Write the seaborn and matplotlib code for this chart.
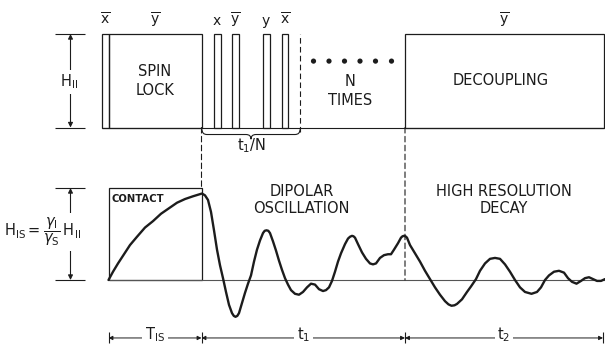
import numpy as np
import seaborn as sns
import matplotlib.pyplot as plt
from matplotlib.patches import ConnectionPatch, PathPatch
from matplotlib.path import Path

# rf on the I spins: pulse edges (time, a.u.) and phases, height = H_II
pulse_start = [-6.5, 0, 105, 123, 154, 173, 296.5]
pulse_end = [0, 93, 112, 130, 161, 179.5, 495]
pulse_phase = [r'$\overline{\mathrm{x}}$', r'$\overline{\mathrm{y}}$', r'$\mathrm{x}$',
               r'$\overline{\mathrm{y}}$', r'$\mathrm{y}$', r'$\overline{\mathrm{x}}$',
               r'$\overline{\mathrm{y}}$']
repeat_dots = [205, 220.5, 236, 251.5, 267, 283]
cycle_span = [93.5, 191.5]

# S spin signal, in units of H_IS
sig_t = [0, 4.5, 9.5, 15.5, 21.5, 28.5, 36.5, 44.5, 52.5, 60.5, 68.5, 76.5, 84.5, 90.5,
         93.5, 96.5, 99.5, 102.5, 105.5, 108.5, 111.5, 114.5, 117.5, 120.5, 123.5, 125.3,
         127, 128.8, 130.5, 133.5, 136.5, 139.5, 142.5, 145.5, 148.5, 151.5, 154.5, 156.2,
         158, 159.8, 161.5, 164.5, 167.5, 170.5, 173.5, 176.5, 179.5, 182.5, 186.5, 190.5,
         194.5, 198.5, 202.5, 206.5, 210.5, 214.5, 217.5, 220.5, 223.5, 226.5, 229.5,
         232.5, 236.5, 239.5, 241.5, 243.5, 245, 246.5, 249.5, 253.5, 257.5, 261.5, 264.5,
         267.5, 271.5, 275.5, 279.5, 282.5, 285.5, 289.5, 292.5, 294, 295.5, 297, 298.5,
         301.5, 306.5, 311.5, 316.5, 322, 326.5, 331.5, 336.5, 340, 343, 346, 348.5,
         353.5, 358.5, 362.5, 367.5, 371.5, 376.5, 381.5, 386.5, 391.5, 396.5, 401.5,
         406.5, 411.5, 416.5, 423, 428.5, 432.5, 436.5, 440.5, 445.5, 450.5, 455.5,
         459.5, 463.5, 468, 472.5, 476.5, 480.5, 484.5, 488.5, 492.5, 496.5]
sig_amp = [0.00, 0.09, 0.18, 0.28, 0.38, 0.47, 0.57, 0.64, 0.72, 0.78, 0.84, 0.88, 0.91, 0.93,
           0.94, 0.92, 0.87, 0.74, 0.54, 0.33, 0.16, 0.02, -0.13, -0.27, -0.36, -0.39,
           -0.40, -0.39, -0.36, -0.25, -0.14, -0.04, 0.05, 0.20, 0.33, 0.43, 0.51, 0.535,
           0.54, 0.535, 0.51, 0.42, 0.32, 0.21, 0.11, 0.02, -0.05, -0.11, -0.15, -0.16,
           -0.13, -0.08, -0.04, -0.05, -0.10, -0.12, -0.11, -0.08, -0.01, 0.09, 0.20,
           0.29, 0.39, 0.45, 0.47, 0.48, 0.475, 0.46, 0.39, 0.30, 0.23, 0.18, 0.17,
           0.18, 0.24, 0.27, 0.28, 0.28, 0.33, 0.40, 0.46, 0.475, 0.48, 0.475, 0.46,
           0.38, 0.29, 0.20, 0.10, 0.00, -0.08, -0.16, -0.23, -0.265, -0.28, -0.275, -0.26,
           -0.21, -0.13, -0.07, 0.01, 0.10, 0.18, 0.23, 0.24, 0.23, 0.17, 0.09,
           0.00, -0.08, -0.13, -0.15, -0.13, -0.08, 0.00, 0.05, 0.09, 0.10, 0.08,
           0.02, -0.02, -0.04, -0.01, 0.02, 0.03, 0.01, -0.01, -0.01, 0.01]

contact_span = [0, 93]
period_edges = [0, 93, 296.5, 494.5]
period_labels = [r'$\mathrm{T_{IS}}$', r'$\mathrm{t_1}$', r'$\mathrm{t_2}$']

sns.set_style('white')
plt.rcParams['font.family'] = ['DejaVu Sans']
plt.rcParams['mathtext.fontset'] = 'dejavusans'
INK = '#1c1c1c'
FS = 10.5

fig = plt.figure(figsize=(6.05, 3.48), dpi=100)
ax_sig = fig.add_axes([0, 0, 1, 1])
ax_rf = fig.add_axes([0, 0, 1, 1])

# --- rf channel
widths = np.subtract(pulse_end, pulse_start)
ax_rf.bar(pulse_start, 1, width=widths, align='edge', fill=False,
          edgecolor=INK, linewidth=0.9)
ax_rf.hlines(0, pulse_start[0], pulse_end[-1], color=INK, lw=0.8)
for s, e, lab in zip(pulse_start, pulse_end, pulse_phase):
    ax_rf.text((s + e) / 2, 1.1, lab, ha='center', va='baseline', fontsize=10, color=INK)

sns.scatterplot(x=repeat_dots, y=[0.71] * len(repeat_dots), ax=ax_rf,
                color=INK, s=14, edgecolor='none', legend=False)

spin_mid = (pulse_start[1] + pulse_end[1]) / 2
ax_rf.text(spin_mid, 0.594, 'SPIN', ha='center', va='center', fontsize=FS, color=INK)
ax_rf.text(spin_mid, 0.401, 'LOCK', ha='center', va='center', fontsize=FS, color=INK)
ax_rf.text(241.5, 0.497, 'N', ha='center', va='center', fontsize=FS, color=INK)
ax_rf.text(241.5, 0.294, 'TIMES', ha='center', va='center', fontsize=FS, color=INK)
ax_rf.text(392, 0.508, 'DECOUPLING', ha='center', va='center', fontsize=FS, color=INK)

# H_II amplitude marker
arrow_kw = dict(arrowstyle='<|-|>', color=INK, lw=0.8, mutation_scale=7,
                shrinkA=0, shrinkB=0)
ax_rf.hlines([0, 1], -53.5, -23.5, color=INK, lw=0.8)
ax_rf.annotate('', xy=(-38, 1), xytext=(-38, 0), arrowprops=arrow_kw)
ax_rf.text(-39, 0.487, r'$\mathrm{H_{II}}$', ha='center', va='center', fontsize=10.5,
           color=INK, bbox=dict(fc='white', ec='none', pad=2))

# t1/N brace
a, b = cycle_span
m = (a + b) / 2
brace = Path([(a, -0.02), (a, -0.075), (a + 5, -0.075), (m - 5, -0.075),
              (m, -0.075), (m, -0.125), (m, -0.075), (m + 5, -0.075),
              (b - 5, -0.075), (b, -0.075), (b, -0.02)],
             [Path.MOVETO, Path.CURVE3, Path.CURVE3, Path.LINETO,
              Path.CURVE3, Path.CURVE3, Path.CURVE3, Path.CURVE3,
              Path.LINETO, Path.CURVE3, Path.CURVE3])
ax_rf.add_patch(PathPatch(brace, fill=False, ec=INK, lw=0.8))
ax_rf.text(m + 1, -0.24, r'$\mathrm{t_1/N}$', ha='center', va='baseline',
           fontsize=10.5, color=INK)
ax_rf.vlines(b, -0.05, 1, color=INK, lw=0.8, linestyles=(0, (5, 3)))

# --- signal channel
ax_sig.bar(contact_span[0], 1, width=contact_span[1] - contact_span[0], align='edge',
           fill=False, edgecolor=INK, linewidth=0.9)
ax_sig.hlines(0, sig_t[0], sig_t[-1], color='#555555', lw=0.8)
sns.lineplot(x=sig_t, y=sig_amp, ax=ax_sig, color=INK, lw=1.7, sort=False,
             estimator=None, solid_joinstyle='round', solid_capstyle='round')

ax_sig.text(contact_span[0] + 3.5, 0.88, 'CONTACT', ha='left', va='center',
            fontsize=7.2, fontweight='bold', color=INK)
ax_sig.text(193, 0.96, 'DIPOLAR', ha='center', va='center', fontsize=FS, color=INK)
ax_sig.text(193, 0.78, 'OSCILLATION', ha='center', va='center', fontsize=FS, color=INK)
ax_sig.text(395.5, 0.96, 'HIGH RESOLUTION', ha='center', va='center', fontsize=FS, color=INK)
ax_sig.text(395.5, 0.78, 'DECAY', ha='center', va='center', fontsize=FS, color=INK)

# H_IS amplitude marker
ax_sig.hlines([0, 1], -53.5, -23.5, color=INK, lw=0.8)
ax_sig.annotate('', xy=(-38, 1), xytext=(-38, 0), arrowprops=arrow_kw)
ax_sig.text(-66, 0.52,
            r'$\mathrm{H_{IS}}=\dfrac{\gamma_\mathrm{I}}{\gamma_\mathrm{S}}\,\mathrm{H_{II}}$',
            ha='center', va='center', fontsize=10.5, color=INK,
            bbox=dict(fc='white', ec='none', pad=2))

# time periods
y_dim = -0.63
for a, b, lab in zip(period_edges[:-1], period_edges[1:], period_labels):
    ax_sig.annotate('', xy=(b, y_dim), xytext=(a, y_dim),
                    arrowprops=dict(arrowstyle='<|-|>', color=INK, lw=0.7,
                                    mutation_scale=6, shrinkA=0, shrinkB=0))
    ax_sig.text((a + b) / 2, y_dim - 0.01, lab, ha='center', va='baseline', fontsize=10.5,
                color=INK, bbox=dict(fc='white', ec='none', pad=2))
ax_sig.vlines(period_edges, -0.685, -0.565, color=INK, lw=0.8)

# dashed guides between the two channels
dash = dict(color=INK, lw=0.8, linestyle=(0, (5, 3)))
for t0, y_sig in [(period_edges[1], 1.0), (period_edges[2], 0.0)]:
    fig.add_artist(ConnectionPatch((t0, 0), (t0, y_sig), coordsA=ax_rf.transData,
                                   coordsB=ax_sig.transData, **dash))

for ax in (ax_sig, ax_rf):
    ax.set_xlim(-108.5, 496.5)
    ax.set_axis_off()
ax_rf.set_ylim(-220.5 / 93.5, (348 - 220.5) / 93.5)
ax_sig.set_ylim(-68 / 92, (348 - 68) / 92)

fig.savefig('out.png', dpi=100, facecolor='white')
